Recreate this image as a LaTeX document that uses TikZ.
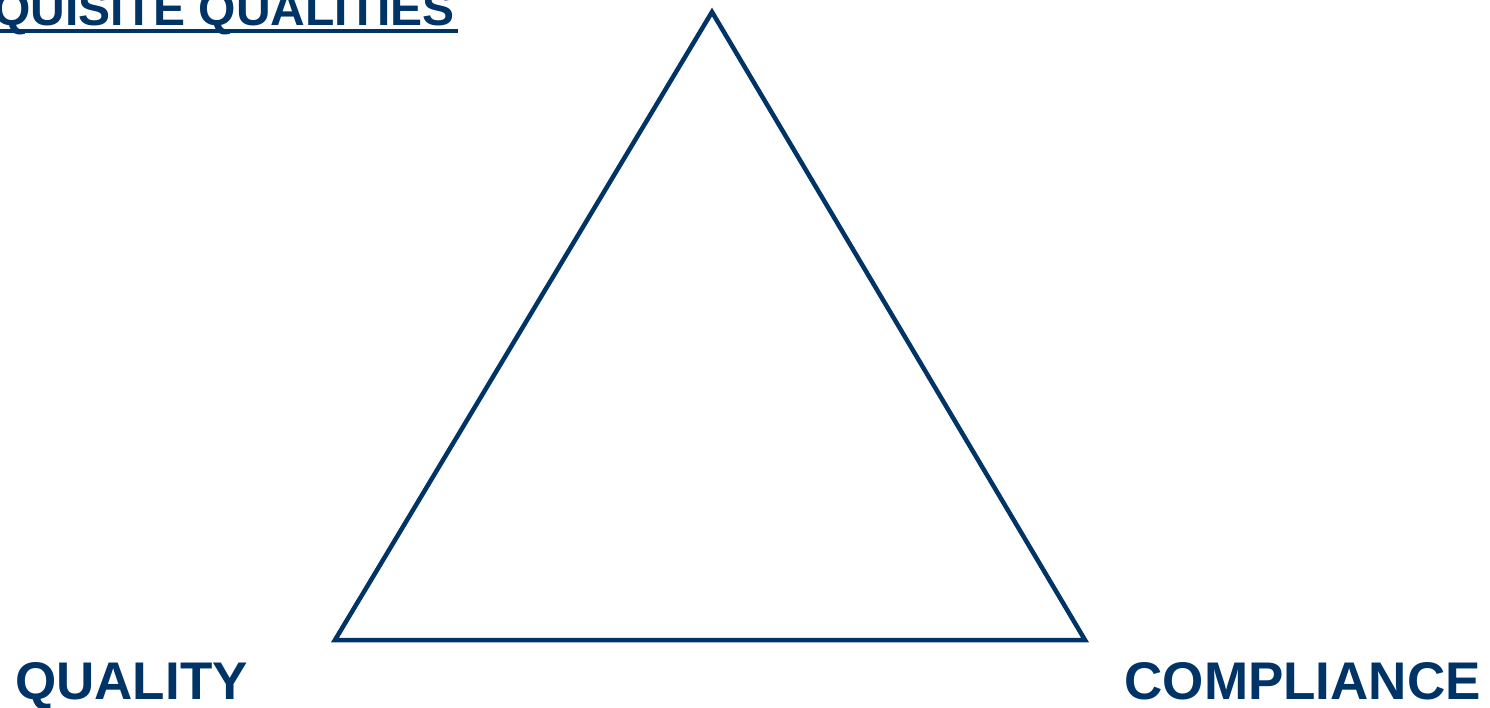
\documentclass[tikz,border=0pt]{standalone}
\usepackage{fontspec}
\setmainfont{Liberation Sans}
\definecolor{navy}{HTML}{003366}
\begin{document}
\begin{tikzpicture}[x=1pt,y=-1pt,
  edge/.style={draw=navy,line width=4.5pt,line join=miter},
  lbl/.style={text=navy,font=\fontsize{53}{60}\selectfont\bfseries,inner sep=0pt}]
\useasboundingbox (0,0) rectangle (1490,707);
\coordinate (apex) at (712,12);
\coordinate (bl) at (335,640);
\coordinate (br) at (1085,640);
\draw[edge] (apex) -- (bl) -- (br) -- cycle;
\node[lbl,anchor=base west] (q) at (15,699) {QUALITY};
\node[lbl,anchor=base east] (c) at (1481,699) {COMPLIANCE};
\node[lbl,anchor=base east,font=\fontsize{48}{56}\selectfont\bfseries] (t) at (455,25) {QUISITE QUALITIES};
\draw[navy,line width=4pt] (t.base west |- 0,31) -- (458,31);
\end{tikzpicture}
\end{document}
